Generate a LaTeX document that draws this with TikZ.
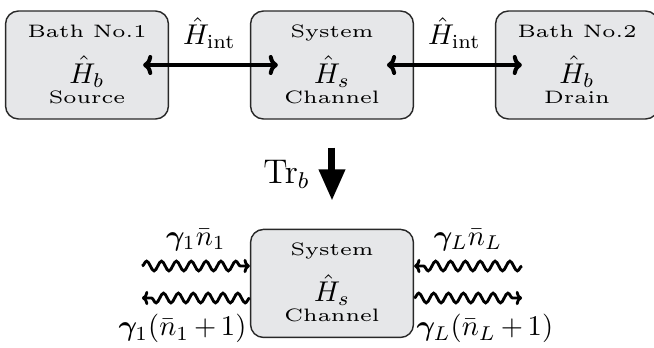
\documentclass[tikz,border=0pt]{standalone}
\usepackage{amsmath,amssymb,bm,graphicx}
\usetikzlibrary{arrows.meta,positioning,decorations.pathmorphing}
\definecolor{boxgray}{RGB}{230,231,233}
\definecolor{edgegray}{RGB}{40,40,40}
\newcommand{\smalltxt}{\fontsize{6.3pt}{0pt}\selectfont}
\newcommand{\widetxt}[1]{\smash{\scalebox{1.2}[1]{#1}}}
% three lines of a box: name, Hamiltonian, role
\newcommand{\boxlines}[3]{\rule{0pt}{3.5pt}\widetxt{#1}\\[16.1pt]\smash{\fontsize{10pt}{0pt}\selectfont$\hat{H}_{#2}$}\\[7pt]\widetxt{#3}}
\tikzset{
  hambox/.style = {rectangle, draw=edgegray, line width=0.5pt, fill=boxgray, rounded corners=4.5pt, minimum width=57pt, minimum height=37.8pt, align=center, inner sep=0pt, font=\smalltxt},
  couple/.style = {{Computer Modern Rightarrow[length=3.2pt,width=7pt]}-{Computer Modern Rightarrow[length=3.2pt,width=7pt]}, line width=1.4pt},
  wave/.style = {-{Computer Modern Rightarrow[length=2.2pt,width=5pt]}, line width=1pt, decorate, decoration={snake, segment length=5.2pt, amplitude=1.7pt, post length=3pt}},
  rate/.style = {inner sep=0pt},
  trace/.style = {-{Triangle[length=11pt,width=8.75pt]}, line width=2.45pt},
}
\begin{document}
\begin{tikzpicture}[x=0.35pt, y=-0.35pt, node distance=85.75pt]
    \useasboundingbox (0,0) rectangle (654,347);
    \node[hambox] (bath1) at (87,65) {\boxlines{Bath No.1}{b}{Source}};
    \node[hambox, right of=bath1] (system) {\boxlines{System}{s}{Channel}};
    \node[hambox, right of=system] (bath2) {\boxlines{Bath No.2}{b}{Drain}};

    % coupling
    \draw[couple, shorten <=-9.1pt, shorten >=-9.8pt] (bath1) -- node[rate, above=4.9pt] {$\hat{H}_{\text{int}}$} (system);
    \draw[couple, shorten <=-9.5pt, shorten >=-9.45pt] (system) -- node[rate, above=4.9pt] {$\hat{H}_{\text{int}}$} (bath2);

    % trace over the baths
    \node[hambox, below=38.15pt of system] (channel) {\boxlines{System}{s}{Channel}};
    \draw[trace, shorten <=9.8pt, shorten >=9.8pt] (system) -- node[rate, left=6.6pt, font=\large] {$\mathrm{Tr}_b$} (channel);

    % rates
    \coordinate (inL) at (142,266);
    \coordinate (outL) at (142,298);
    \coordinate (inR) at (522,266);
    \coordinate (outR) at (522,298);
    \draw[wave] (inL) -- node[rate, above=4.9pt] {$\bm{\gamma}_1\bar{n}_1$} (inL -| channel.west);
    \draw[wave] (outL -| channel.west) -- node[pos=0, rate, anchor=north east, yshift=-5.25pt, xshift=-0.7pt] {$\bm{\gamma}_1(\bar{n}_1\,{+}\,1)$} (outL);
    \draw[wave] (inR) -- node[rate, above=4.9pt] {$\bm{\gamma}_L\bar{n}_L$} (inR -| channel.east);
    \draw[wave] (outR -| channel.east) -- node[pos=0, rate, anchor=north west, yshift=-5.25pt, xshift=0.4pt] {$\bm{\gamma}_L(\bar{n}_L\,{+}\,1)$} (outR);
\end{tikzpicture}
\end{document}
